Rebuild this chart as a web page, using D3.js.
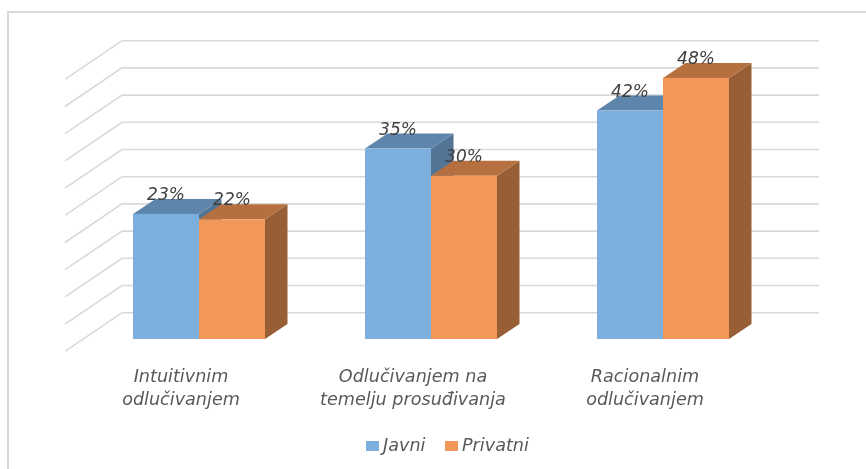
<!DOCTYPE html>
<html>
<head>
<meta charset="utf-8">
<script src="https://cdnjs.cloudflare.com/ajax/libs/d3/7.8.5/d3.min.js"></script>
<style>
  html, body { margin: 0; padding: 0; background: #fff; }
  svg { display: block; filter: blur(0.5px); }
  text { font-family: "DejaVu Sans", sans-serif; font-style: italic; }
</style>
</head>
<body>
<div id="chart"></div>
<script>
const categories = ['Intuitivnim odlučivanjem', 'Odlučivanjem na temelju prosuđivanja', 'Racionalnim odlučivanjem']
const categoryLines = [['Intuitivnim', 'odlučivanjem'], ['Odlučivanjem na', 'temelju prosuđivanja'], ['Racionalnim', 'odlučivanjem']]
const seriesNames = ['Javni', 'Privatni']
const javni = [23, 35, 42]
const privatni = [22, 30, 48]
const gridTicks = [0, 5, 10, 15, 20, 25, 30, 35, 40, 45, 50]

const colors = {
  Javni: { front: '#7cafde', top: '#5e85ab', side: '#527596' },
  Privatni: { front: '#f2975a', top: '#b6703f', side: '#985f36' }
}

const width = 866
const height = 469

// depth of the 3d look, in px
const barDepth = { x: 22.5, y: -15 }
const wallBack = { x: 122, y: -26.3 }
const wallFront = { x: 65, y: 12.3 }
const wallRight = 819

const svg = d3
  .select('#chart')
  .append('svg')
  .attr('width', width)
  .attr('height', height)

const xCategory = d3.scaleBand().domain(categories).range([83, 779])
const xSeries = d3.scaleBand().domain(seriesNames).range([50, 182])
const y = d3.scaleLinear().domain([0, 50]).range([339, 67])

// outer frame, only top and left show in the window
svg
  .append('path')
  .attr('d', 'M8,469V12H866')
  .attr('fill', 'none')
  .attr('stroke', '#d9d9d9')
  .attr('stroke-width', 2)

// gridlines: floor part going to the front, then along the back wall
svg
  .selectAll('.grid')
  .data(gridTicks)
  .enter()
  .append('path')
  .attr('class', 'grid')
  .attr('fill', 'none')
  .attr('stroke', '#d9d9d9')
  .attr('stroke-width', 1.6)
  .attr('d', d =>
    d3.line()([
      [wallFront.x, y(d) + wallFront.y],
      [wallBack.x, y(d) + wallBack.y],
      [wallRight, y(d) + wallBack.y]
    ])
  )

const rows = []
categories.forEach((c, i) => {
  rows.push({ category: c, series: 'Javni', value: javni[i] })
  rows.push({ category: c, series: 'Privatni', value: privatni[i] })
})

const bars = svg
  .selectAll('.bar')
  .data(rows)
  .enter()
  .append('g')
  .attr('class', 'bar')

function left(d) {
  return xCategory(d.category) + xSeries(d.series)
}
function right(d) {
  return left(d) + xSeries.bandwidth()
}

bars
  .append('polygon')
  .attr('fill', d => colors[d.series].side)
  .attr('points', d =>
    [
      [right(d), y(0)],
      [right(d) + barDepth.x, y(0) + barDepth.y],
      [right(d) + barDepth.x, y(d.value) + barDepth.y],
      [right(d), y(d.value)]
    ].join(' ')
  )

bars
  .append('polygon')
  .attr('fill', d => colors[d.series].top)
  .attr('points', d =>
    [
      [left(d), y(d.value)],
      [left(d) + barDepth.x, y(d.value) + barDepth.y],
      [right(d) + barDepth.x, y(d.value) + barDepth.y],
      [right(d), y(d.value)]
    ].join(' ')
  )

bars
  .append('rect')
  .attr('fill', d => colors[d.series].front)
  .attr('x', d => left(d))
  .attr('y', d => y(d.value))
  .attr('width', xSeries.bandwidth())
  .attr('height', d => y(0) - y(d.value))

// value labels sit on top of everything
svg
  .selectAll('.value')
  .data(rows)
  .enter()
  .append('text')
  .attr('class', 'value')
  .attr('x', d => left(d) + xSeries.bandwidth() / 2)
  .attr('y', d => y(d.value) - 14)
  .attr('text-anchor', 'middle')
  .attr('font-size', 17)
  .attr('fill', '#404040')
  .text(d => d.value + '%')

// category labels
const catLabels = svg
  .selectAll('.cat')
  .data(categories)
  .enter()
  .append('text')
  .attr('class', 'cat')
  .attr('text-anchor', 'middle')
  .attr('font-size', 17.6)
  .attr('fill', '#595959')

catLabels
  .selectAll('tspan')
  .data((d, i) => categoryLines[i].map((line, k) => ({ line, k, c: d })))
  .enter()
  .append('tspan')
  .attr('x', d => xCategory(d.c) + xCategory.bandwidth() / 2 - 18)
  .attr('y', d => 382 + d.k * 23)
  .text(d => d.line)

// legend
const legendX = d3.scaleOrdinal().domain(seriesNames).range([366, 445])

const legend = svg
  .selectAll('.legend')
  .data(seriesNames)
  .enter()
  .append('g')
  .attr('class', 'legend')
  .attr('transform', d => 'translate(' + legendX(d) + ',441)')

legend
  .append('rect')
  .attr('width', 13)
  .attr('height', 10)
  .attr('fill', d => colors[d].front)

legend
  .append('text')
  .attr('x', 17)
  .attr('y', 10)
  .attr('font-size', 17.6)
  .attr('fill', '#595959')
  .text(d => d)
</script>
</body>
</html>
